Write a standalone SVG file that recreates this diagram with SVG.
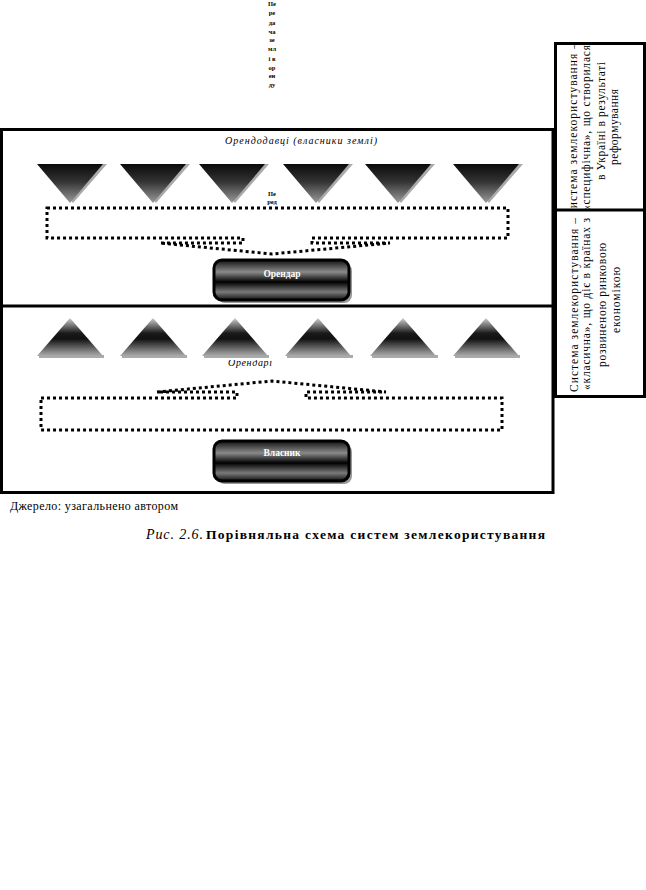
<svg xmlns="http://www.w3.org/2000/svg" width="646" height="890" viewBox="0 0 646 890">
<defs>
<style>
.box{fill:none;stroke:#000;stroke-width:3}
.dot{fill:none;stroke:#000;stroke-width:3;stroke-dasharray:3 3}
.tiny{font-family:"Liberation Serif",serif;font-size:6.5px;font-weight:bold;text-anchor:middle}
.col{font-family:"Liberation Serif",serif;font-size:11.5px;text-anchor:middle}
.btn{font-family:"Liberation Serif",serif;font-size:9.5px;font-weight:bold;fill:#fff;text-anchor:middle}
.it{font-family:"Liberation Serif",serif;font-style:italic;font-size:10px}
.sh{fill:#aaa}
</style>
<linearGradient id="gDown" x1="0" y1="0" x2="0" y2="1">
<stop offset="0" stop-color="#0a0a0a"/><stop offset="0.45" stop-color="#333"/><stop offset="1" stop-color="#9a9a9a"/>
</linearGradient>
<linearGradient id="gUp" x1="0" y1="0" x2="0" y2="1">
<stop offset="0" stop-color="#cfcfcf"/><stop offset="0.4" stop-color="#1a1a1a"/><stop offset="0.55" stop-color="#111"/><stop offset="0.9" stop-color="#8a8a8a"/><stop offset="1" stop-color="#aaa"/>
</linearGradient>
<linearGradient id="gBtn" x1="0" y1="0" x2="0" y2="1">
<stop offset="0" stop-color="#111"/><stop offset="0.3" stop-color="#8a8a8a"/><stop offset="0.55" stop-color="#000"/><stop offset="0.8" stop-color="#7a7a7a"/><stop offset="1" stop-color="#111"/>
</linearGradient>
<clipPath id="c1"><rect x="556" y="44" width="88" height="165"/></clipPath>
<clipPath id="c2"><rect x="556" y="211" width="88" height="185"/></clipPath>
<clipPath id="c3"><rect x="200" y="360" width="100" height="20"/></clipPath>
</defs>

<g id="top-label">
<text class="tiny" x="272" y="6">Пе</text>
<text class="tiny" x="272" y="15">ре</text>
<text class="tiny" x="272" y="25">да</text>
<text class="tiny" x="272" y="34">ча</text>
<text class="tiny" x="272" y="42">зе</text>
<text class="tiny" x="272" y="51">мл</text>
<text class="tiny" x="272" y="61">і в</text>
<text class="tiny" x="272" y="70">ор</text>
<text class="tiny" x="272" y="78">ен</text>
<text class="tiny" x="272" y="87">ду</text>
</g>

<g id="frames">
<rect class="box" x="1.5" y="129.5" width="551.5" height="363"/>
<line class="box" x1="1.5" y1="306" x2="553" y2="306"/>
<rect class="box" x="555.5" y="43.5" width="89" height="353"/>
<line class="box" x1="555.5" y1="210" x2="644.5" y2="210"/>
</g>

<g id="owners-title">
<text class="it" x="225" y="144" textLength="152" lengthAdjust="spacing">Орендодавці (власники землі)</text>
</g>

<g id="owners">
<polygon class="sh" points="41,164 107,164 73,203"/>
<polygon fill="url(#gDown)" points="37,164 103,164 70,203"/>
<polygon class="sh" points="124,164 190,164 156,203"/>
<polygon fill="url(#gDown)" points="120,164 186,164 153,203"/>
<polygon class="sh" points="203,164 269,164 235,203"/>
<polygon fill="url(#gDown)" points="199,164 265,164 232,203"/>
<polygon class="sh" points="287,164 353,164 319,203"/>
<polygon fill="url(#gDown)" points="283,164 349,164 316,203"/>
<polygon class="sh" points="369,164 435,164 401,203"/>
<polygon fill="url(#gDown)" points="365,164 431,164 398,203"/>
<polygon class="sh" points="457,164 523,164 489,203"/>
<polygon fill="url(#gDown)" points="453,164 519,164 486,203"/>
</g>

<g id="transfer-label">
<text class="tiny" x="272" y="196">Пе</text>
<text class="tiny" x="272" y="204">ред</text>
</g>

<g id="connectors">
<path class="dot" d="M47,208 H508 V238 H312 V243 H390 L272,254 L160,243 H243 V238 H47 Z"/>
<path class="dot" d="M41,398 H237 V392 H157 L272,381 L386,392 H306 V398 H502 V430 H41 Z"/>
</g>

<g id="tenant">
<rect x="217" y="263" width="135" height="40" rx="8" fill="#999"/>
<rect x="214" y="260" width="135" height="40" rx="8" fill="url(#gBtn)" stroke="#000" stroke-width="3"/>
<text class="btn" x="282" y="277">Орендар</text>
</g>

<g id="tenants">
<rect x="39" y="355" width="65" height="3" fill="#aaa"/>
<polygon fill="url(#gUp)" points="70,318 37,356 103,356"/>
<rect x="122" y="355" width="65" height="3" fill="#aaa"/>
<polygon fill="url(#gUp)" points="153,318 120,356 186,356"/>
<rect x="204" y="355" width="65" height="3" fill="#aaa"/>
<polygon fill="url(#gUp)" points="235,318 202,356 268,356"/>
<rect x="287" y="355" width="66" height="3" fill="#aaa"/>
<polygon fill="url(#gUp)" points="318,318 285,356 351,356"/>
<rect x="372" y="355" width="66" height="3" fill="#aaa"/>
<polygon fill="url(#gUp)" points="403,318 370,356 436,356"/>
<rect x="455" y="355" width="65" height="3" fill="#aaa"/>
<polygon fill="url(#gUp)" points="486,318 453,356 519,356"/>
<g clip-path="url(#c3)"><text class="it" x="228" y="366" textLength="44" lengthAdjust="spacing">Орендарі</text></g>
</g>

<g id="owner">
<rect x="217" y="444" width="135" height="40" rx="8" fill="#999"/>
<rect x="214" y="441" width="135" height="40" rx="8" fill="url(#gBtn)" stroke="#000" stroke-width="3"/>
<text class="btn" x="282" y="456">Власник</text>
</g>

<g id="specific-system" clip-path="url(#c1)">
<text class="col" transform="translate(577,130) rotate(-90)" textLength="174" lengthAdjust="spacing">Система землекористування –</text>
<text class="col" transform="translate(590,128) rotate(-90)" textLength="166" lengthAdjust="spacing">«специфічна», що створилася</text>
<text class="col" transform="translate(605,121) rotate(-90)" textLength="118" lengthAdjust="spacing">в Україні в результаті</text>
<text class="col" transform="translate(618,127) rotate(-90)" textLength="76" lengthAdjust="spacing">реформування</text>
</g>

<g id="classic-system" clip-path="url(#c2)">
<text class="col" transform="translate(578,305) rotate(-90)" textLength="174" lengthAdjust="spacing">Система землекористування –</text>
<text class="col" transform="translate(590,304) rotate(-90)" textLength="172" lengthAdjust="spacing">«класична», що діє в країнах з</text>
<text class="col" transform="translate(606,305) rotate(-90)" textLength="124" lengthAdjust="spacing">розвиненою ринковою</text>
<text class="col" transform="translate(620,300) rotate(-90)" textLength="66" lengthAdjust="spacing">економікою</text>
</g>

<g id="caption">
<text x="10" y="510" font-family="'Liberation Serif',serif" font-size="12" textLength="168" lengthAdjust="spacing">Джерело: узагальнено автором</text>
<text x="146" y="539" font-family="'Liberation Serif',serif" font-size="14" font-style="italic" textLength="57" lengthAdjust="spacing">Рис. 2.6.</text>
<text x="206" y="539" font-family="'Liberation Serif',serif" font-size="13.5" font-weight="bold" textLength="339" lengthAdjust="spacing">Порівняльна схема систем землекористування</text>
</g>
</svg>
